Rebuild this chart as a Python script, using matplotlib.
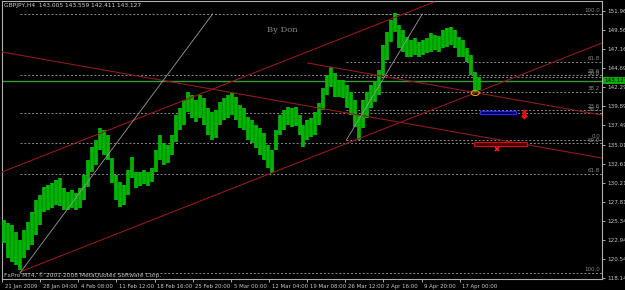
import matplotlib
matplotlib.use('Agg')
import matplotlib.pyplot as plt
from matplotlib.patches import Rectangle, Ellipse
from matplotlib.transforms import ScaledTranslation

# GBPJPY H4 - muestras de barras (maximo / minimo)
highs = [125.49, 125.11, 124.85, 123.97, 122.95, 124.22, 125.23, 126.50, 128.02, 128.65,
         129.67, 129.92, 130.17, 130.55, 130.81, 129.54, 129.03, 129.29, 128.91, 129.54,
         131.19, 133.09, 134.74, 135.62, 137.14, 136.89, 136.26, 133.34, 131.19, 130.30,
         129.92, 131.82, 133.47, 131.57, 131.57, 131.82, 131.57, 132.08, 134.36, 136.26,
         135.24, 134.99, 136.26, 138.79, 139.68, 140.69, 141.70, 141.32, 140.69, 141.32,
         140.94, 139.68, 139.17, 139.42, 140.44, 140.94, 141.32, 141.58, 141.07, 140.06,
         139.68, 138.54, 138.16, 137.52, 137.14, 136.51, 134.99, 134.36, 136.89, 138.79,
         139.42, 139.80, 139.68, 139.80, 138.79, 137.52, 138.16, 138.41, 139.17, 140.31,
         142.21, 143.86, 144.87, 144.11, 143.22, 143.22, 142.59, 141.70, 140.69, 138.79,
         140.69, 141.70, 142.59, 142.97, 144.49, 147.66, 149.30, 150.83, 151.71, 150.19,
         149.56, 148.67, 148.29, 148.55, 148.04, 148.29, 148.55, 149.18, 148.93, 148.80,
         149.56, 149.81, 149.94, 149.56, 148.67, 148.29, 147.28, 146.39, 144.23, 143.60]
lows = [122.57, 120.67, 120.16, 119.78, 119.15, 120.67, 121.69, 122.32, 123.59, 124.85,
        126.50, 126.75, 127.01, 127.39, 127.26, 126.75, 126.75, 127.01, 126.75, 127.01,
        128.02, 129.67, 131.57, 132.45, 134.36, 133.72, 133.09, 130.17, 128.02, 127.13,
        127.39, 128.65, 130.81, 129.54, 129.79, 130.05, 129.79, 130.30, 131.57, 133.09,
        132.45, 132.71, 133.72, 135.37, 136.89, 137.52, 139.17, 138.41, 137.90, 138.41,
        137.52, 136.26, 135.62, 135.88, 137.52, 138.16, 138.41, 138.79, 138.16, 137.14,
        136.89, 135.62, 135.24, 134.61, 133.72, 133.09, 132.08, 131.44, 134.36, 136.26,
        136.89, 137.52, 137.27, 137.40, 136.26, 134.74, 135.62, 136.00, 136.26, 137.52,
        139.42, 141.32, 142.34, 141.07, 141.07, 140.94, 139.68, 138.79, 137.27, 135.62,
        137.14, 138.41, 139.68, 140.44, 141.32, 143.86, 145.76, 148.04, 149.30, 147.28,
        146.77, 146.14, 146.14, 146.39, 146.14, 146.39, 146.65, 146.77, 147.03, 146.77,
        147.28, 147.41, 147.66, 147.28, 146.14, 146.14, 145.50, 143.86, 141.70, 141.96]

price_ticks = [151.965, 149.560, 147.165, 144.690, 142.290, 139.890, 137.490, 135.015,
               132.615, 130.215, 127.815, 125.340, 122.940, 120.540, 118.140]
time_labels = ['21 Jan 2009', '28 Jan 04:00', '4 Feb 08:00', '11 Feb 12:00', '18 Feb 16:00',
               '25 Feb 20:00', '5 Mar 00:00', '12 Mar 04:00', '19 Mar 08:00', '26 Mar 12:00',
               '2 Apr 16:00', '9 Apr 20:00', '17 Apr 00:00']
last_price = 143.127

# lineas de tendencia (rojo) y diagonales de fibo (gris)
red_x = [(-0.5, 107.75), (4, 149.75), (-0.5, 149.75), (76, 149.75)]
red_y = [(131.57, 153.11), (118.90, 147.91), (146.77, 133.34), (145.38, 138.79)]
gray_x = [(4, 52.25), (85.75, 104.75)]
gray_y = [(118.77, 151.59), (135.62, 151.59)]

# dos retrocesos de Fibonacci
fib_levels = [0.0, 0.236, 0.382, 0.5, 0.618, 1.0]
fib_a = (85.75, 135.62, 151.59)   # inicio, 0.0, 100.0
fib_b = (4, 151.59, 118.77)

fig = plt.figure(figsize=(6.25, 2.9), dpi=100, facecolor='black')
ax = fig.add_axes([2 / 625, 11 / 290, 600 / 625, 278 / 290], facecolor='black')

x = list(range(len(highs)))
ax.vlines(x, lows, highs, color='#00b400', lw=2.7, zorder=3)

ax.axhline(last_price, color='#3a9a3a', lw=1, zorder=2)

for (x0, x1), (y0, y1) in zip(red_x, red_y):
    ax.plot([x0, x1], [y0, y1], color='#8e1c1c', lw=0.8, zorder=4)
for (x0, x1), (y0, y1) in zip(gray_x, gray_y):
    ax.plot([x0, x1], [y0, y1], color='#9a9a9a', lw=0.6, zorder=4)

for start, p0, p100 in [fib_a, fib_b]:
    for lv in fib_levels:
        p = p0 + lv * (p100 - p0)
        ax.plot([start, 149.75], [p, p], color='#8a8a8a', lw=0.7, ls=(0, (2, 2)), zorder=1)
        if lv == 0.0 and start == fib_b[0]:
            continue
        ax.text(149.3, p + 0.12, f'{lv * 100:.1f}', color='#8a8a8a', fontsize=4,
                ha='right', va='bottom', zorder=5)

# objetos: elipse, rectangulos, flecha, cruz
ax.add_patch(Ellipse((118, 141.58), 2.0, 0.65, fill=False, ec='#c8a800', lw=0.8, zorder=6))
ax.add_patch(Rectangle((119.25, 138.92), 9.0, 0.38, fc='#000070', ec='#2828ff', lw=0.8, zorder=6))
ax.add_patch(Rectangle((117.75, 134.86), 13.25, 0.51, fc='#500000', ec='#d01010', lw=0.8, zorder=6))
ax.plot([130.2], [138.95], marker='$\\Downarrow$', color='#e01010', ms=6, zorder=7)
ax.plot([123.5], [134.45], marker='x', color='#ff2020', ms=3, mew=1.2, zorder=7)

ax.text(69.75, 149.6, 'By Don', color='#8a8a8a', fontsize=6, family='DejaVu Serif',
        ha='center', va='center')

ax.set_xlim(-0.5, 149.75)
ax.set_ylim(118.01, 153.23)

ax.yaxis.tick_right()
ax.set_yticks(price_ticks)
ax.set_yticklabels([f'{p:.3f}' for p in price_ticks])
ax.set_xticks([-0.5 + 9.55 * k for k in range(len(time_labels))])
ax.set_xticklabels(time_labels, ha='left')
ax.tick_params(colors='#c8c8c8', length=2, width=0.6, pad=1.5)
ax.tick_params(axis='y', labelsize=4.1)
ax.tick_params(axis='x', labelsize=3.9)
for lab in ax.get_yticklabels():
    lab.set_color('#c8c8c8')
for lab in ax.get_xticklabels():
    lab.set_transform(lab.get_transform() + ScaledTranslation(2 / 72, 0, fig.dpi_scale_trans))
for s in ax.spines.values():
    s.set_color('#b0b0b0')
    s.set_linewidth(0.8)

ax.text(150.3, last_price, f'{last_price:.3f}', color='black', fontsize=4.1, va='center',
        ha='left', bbox=dict(boxstyle='square,pad=0.15', fc='#00b000', ec='none'),
        clip_on=False, zorder=8)

fig.text(4 / 625, 1 - 6 / 290, 'GBPJPY,H4  143.005 143.559 142.411 143.127',
         color='#d0d0d0', fontsize=4.2, va='center')
fig.text(4 / 625, 1 - 275 / 290, 'FxPro MT4, \u00a9 2001-2008 MetaQuotes Software Corp.',
         color='#c0c0c0', fontsize=4.2, va='center')

fig.savefig('out.png', dpi=100, facecolor='black')
